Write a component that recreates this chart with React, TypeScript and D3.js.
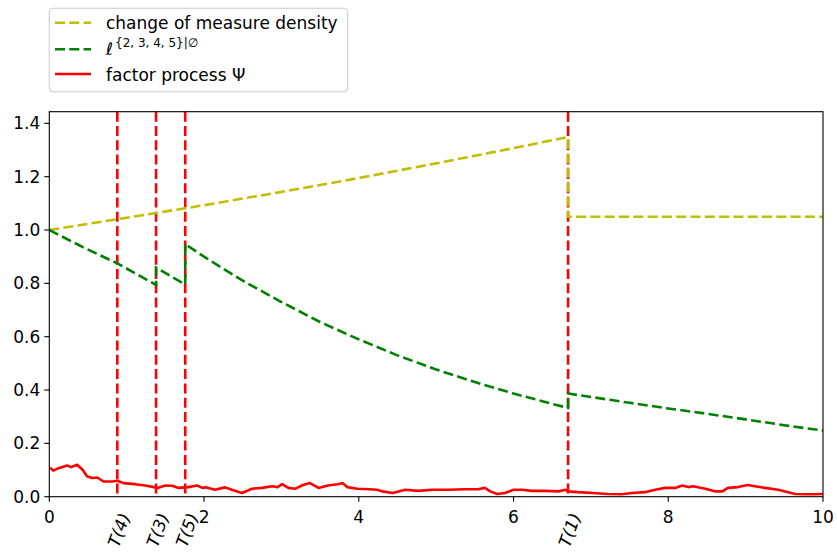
import React from "react";
import * as d3 from "d3";

// ---- data ----
const jumpTimes = [0.879, 1.38, 1.757, 6.705];
const jumpLabels = ["T(4)", "T(3)", "T(5)", "T(1)"];

const densityT = [0, 1, 2, 3, 4, 5, 6, 6.705, 6.705, 10];
const densityV = [1.0, 1.046, 1.093, 1.143, 1.195, 1.25, 1.307, 1.349, 1.05, 1.05];

const ellT = [0, 0.44, 0.879, 1.38, 1.38, 1.757, 1.757, 2.0, 2.5, 3.0, 3.5, 4.0, 4.5, 5.0, 5.5, 6.0, 6.5, 6.705, 6.705, 7.5, 8.0, 8.5, 9.0, 9.5, 10];
const ellV = [1.0, 0.935, 0.875, 0.794, 0.859, 0.796, 0.947, 0.9, 0.81, 0.73, 0.655, 0.59, 0.53, 0.477, 0.43, 0.387, 0.348, 0.333, 0.387, 0.352, 0.331, 0.311, 0.29, 0.268, 0.248];

const psiT = [0.01, 0.05, 0.12, 0.23, 0.28, 0.36, 0.43, 0.49, 0.56, 0.62, 0.7, 0.81, 0.88, 0.96, 1.11, 1.24, 1.4, 1.5, 1.59, 1.67, 1.8, 1.91, 1.98, 2.02, 2.14, 2.27, 2.36, 2.49, 2.62, 2.75, 2.88, 2.95, 3.01, 3.09, 3.18, 3.28, 3.37, 3.48, 3.6, 3.73, 3.79, 3.85, 3.98, 4.08, 4.24, 4.3, 4.44, 4.6, 4.77, 4.95, 5.16, 5.37, 5.54, 5.63, 5.7, 5.79, 5.89, 6.0, 6.11, 6.24, 6.41, 6.58, 6.67, 6.71, 6.83, 7.02, 7.22, 7.4, 7.53, 7.7, 7.83, 7.96, 8.09, 8.18, 8.26, 8.32, 8.48, 8.6, 8.7, 8.77, 8.9, 9.03, 9.12, 9.25, 9.42, 9.55, 9.64, 9.77, 9.9, 10.0];
const psiV = [0.109, 0.098, 0.107, 0.117, 0.111, 0.12, 0.101, 0.076, 0.07, 0.072, 0.057, 0.057, 0.06, 0.051, 0.047, 0.042, 0.033, 0.042, 0.041, 0.033, 0.036, 0.042, 0.033, 0.035, 0.026, 0.035, 0.026, 0.014, 0.03, 0.033, 0.039, 0.036, 0.047, 0.033, 0.03, 0.044, 0.051, 0.033, 0.042, 0.047, 0.051, 0.036, 0.03, 0.029, 0.026, 0.02, 0.014, 0.026, 0.022, 0.026, 0.026, 0.028, 0.028, 0.033, 0.02, 0.01, 0.014, 0.026, 0.026, 0.022, 0.022, 0.02, 0.026, 0.02, 0.017, 0.014, 0.01, 0.009, 0.014, 0.017, 0.026, 0.033, 0.033, 0.042, 0.036, 0.039, 0.03, 0.02, 0.02, 0.033, 0.036, 0.044, 0.039, 0.033, 0.026, 0.017, 0.01, 0.009, 0.009, 0.01];

const xTicks = [0, 2, 4, 6, 8, 10];
const yTicks = [0, 0.2, 0.4, 0.6, 0.8, 1.0, 1.2, 1.4];

const COLORS = { density: "#bfbf00", ell: "#008000", psi: "#ff0000" };
const FONT = "DejaVu Sans, sans-serif";
const FS = 17;

export default function App() {
  const W = 837, H = 552;
  const left = 49.3, right = 823, top = 111.7, bottom = 496.7;
  const x = d3.scaleLinear().domain([0, 10]).range([left, right]);
  const y = d3.scaleLinear().domain([0, 1.4437]).range([bottom, top]);

  const line = d3.line<[number, number]>().x((d) => x(d[0])).y((d) => y(d[1]));
  const zip = (a: number[], b: number[]) => a.map((t, i) => [t, b[i]] as [number, number]);

  const dens = line(zip(densityT, densityV)) || "";
  const ell = line(zip(ellT, ellV)) || "";
  const psi = line(zip(psiT, psiV)) || "";

  return (
    <svg width={W} height={H} style={{ position: "absolute", left: 0, top: 0, background: "#fff" }} fontFamily={FONT}>
      <defs>
        <clipPath id="plot">
          <rect x={left} y={top} width={right - left} height={bottom - top} />
        </clipPath>
      </defs>
      <g clipPath="url(#plot)">
        {jumpTimes.map((t, i) => (
          <line key={i} x1={x(t)} x2={x(t)} y1={top} y2={bottom} stroke={COLORS.psi} strokeWidth={2.6} strokeDasharray="10,4.3" />
        ))}
        <path d={dens} fill="none" stroke={COLORS.density} strokeWidth={2.6} strokeDasharray="10,4.3" />
        <path d={ell} fill="none" stroke={COLORS.ell} strokeWidth={2.6} strokeDasharray="10,4.3" />
        <path d={psi} fill="none" stroke={COLORS.psi} strokeWidth={2.6} strokeLinejoin="round" />
      </g>
      {/* axes */}
      <rect x={left} y={top} width={right - left} height={bottom - top} fill="none" stroke="#000" strokeWidth={1.1} />
      {xTicks.map((t) => (
        <g key={t}>
          <line x1={x(t)} x2={x(t)} y1={bottom} y2={bottom + 5} stroke="#000" strokeWidth={1.1} />
          <text x={x(t)} y={bottom + 26} textAnchor="middle" fontSize={FS} fill="#000">{t}</text>
        </g>
      ))}
      {yTicks.map((v) => (
        <g key={v}>
          <line x1={left - 5} x2={left} y1={y(v)} y2={y(v)} stroke="#000" strokeWidth={1.1} />
          <text x={left - 9} y={y(v)} dy="0.36em" textAnchor="end" fontSize={FS} fill="#000">{v.toFixed(1)}</text>
        </g>
      ))}
      {jumpTimes.map((t, i) => (
        <text key={i} transform={`translate(${x(t) + 2},${bottom + 15}) rotate(-70)`} textAnchor="end" dy="0.7em" fontSize={FS} fontStyle="italic" fill="#000">
          {jumpLabels[i]}
        </text>
      ))}
      {/* legend */}
      <rect x={49.3} y={8.3} width={298.4} height={83.4} rx={4} fill="#fff" fillOpacity={0.8} stroke="#cccccc" strokeWidth={1.1} />
      <line x1={55} x2={91} y1={22.7} y2={22.7} stroke={COLORS.density} strokeWidth={2.6} strokeDasharray="10,4.3" />
      <text x={106} y={29.3} fontSize={FS} fill="#000">change of measure density</text>
      <line x1={55} x2={91} y1={49.3} y2={49.3} stroke={COLORS.ell} strokeWidth={2.6} strokeDasharray="10,4.3" />
      <text x={106} y={55} fontSize={FS} fill="#000">
        <tspan fontStyle="italic">ℓ</tspan>
        <tspan dx={2} dy={-8} fontSize={12}>{"{2, 3, 4, 5}|∅"}</tspan>
      </text>
      <line x1={55} x2={91} y1={74} y2={74} stroke={COLORS.psi} strokeWidth={2.6} />
      <text x={106} y={81} fontSize={FS} fill="#000">factor process Ψ</text>
    </svg>
  );
}
